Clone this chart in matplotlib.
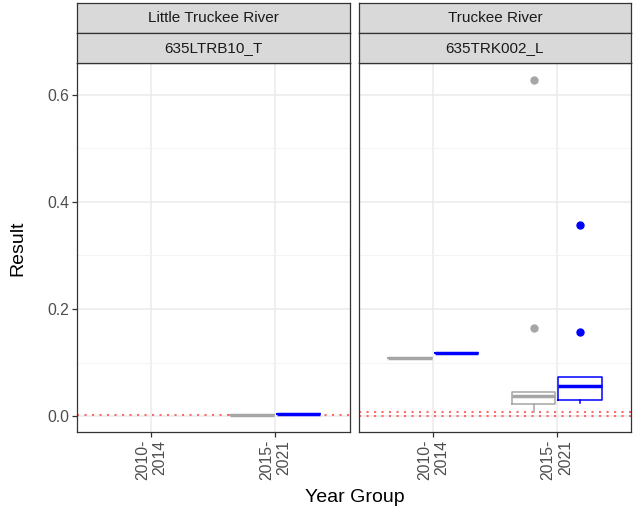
import matplotlib
matplotlib.use('Agg')
import matplotlib.pyplot as plt

plt.rcParams['font.family'] = ['Liberation Sans', 'DejaVu Sans']

# facet labels
rivers = ['Little Truckee River', 'Truckee River']
stations = ['635LTRB10_T', '635TRK002_L']
year_groups = ['2010-\n2014', '2015-\n2021']
series_colours = {'grey': '#A6A6A6', 'blue': '#0000FF'}

# box stats per panel: (year group index, series) -> whislo, q1, med, q3, whishi, fliers
ltr_boxes = [
    (1, 'grey', 0.001, 0.001, 0.001, 0.001, 0.001, []),
    (1, 'blue', 0.004, 0.004, 0.004, 0.004, 0.004, []),
]
trk_boxes = [
    (0, 'grey', 0.108, 0.108, 0.108, 0.108, 0.108, []),
    (0, 'blue', 0.118, 0.118, 0.118, 0.118, 0.118, []),
    (1, 'grey', 0.008, 0.022, 0.037, 0.044, 0.044, [0.164, 0.628]),
    (1, 'blue', 0.024, 0.029, 0.056, 0.072, 0.072, [0.157, 0.357]),
]
# red dotted reference levels
ltr_limits = [0.001]
trk_limits = [0.0, 0.007]

W, H = 634, 513
fig = plt.figure(figsize=(W / 100, H / 100), dpi=100)


def px_box(x0, y0, x1, y1):
    return [x0 / W, 1 - y1 / H, (x1 - x0) / W, (y1 - y0) / H]


panels = [(77, 349.5), (359, 631)]
boxes_all = [ltr_boxes, trk_boxes]
limits_all = [ltr_limits, trk_limits]
offsets = {'grey': -0.1875, 'blue': 0.1875}

for i, (x0, x1) in enumerate(panels):
    ax = fig.add_axes(px_box(x0, 63, x1, 432))
    ax.set_xlim(0.4, 2.6)
    ax.set_ylim(-0.0299, 0.6598)
    ax.set_yticks([0.0, 0.2, 0.4, 0.6])
    ax.set_yticks([0.1, 0.3, 0.5], minor=True)
    ax.set_xticks([1, 2])
    ax.set_xticklabels(year_groups, rotation=90, ha='center', va='top',
                       multialignment='right', fontsize=11.3, color='#4D4D4D')
    ax.grid(True, which='major', color='#EBEBEB', lw=1.1, zorder=0)
    ax.grid(True, which='minor', axis='y', color='#F2F2F2', lw=0.6, zorder=0)
    ax.set_axisbelow(True)
    ax.tick_params(axis='both', which='major', length=3.5, width=0.9,
                   color='#333333', labelsize=11.3, labelcolor='#4D4D4D', pad=2)
    ax.tick_params(axis='y', which='minor', length=0)
    for sp in ax.spines.values():
        sp.set_color('#333333')
        sp.set_linewidth(0.9)
    if i == 0:
        ax.set_yticklabels(['0.0', '0.2', '0.4', '0.6'])
    else:
        ax.tick_params(axis='y', labelleft=False, length=0)

    for lvl in limits_all[i]:
        ax.axhline(lvl, color='#FF6A6A', lw=1.5, ls=(0, (1, 2.6)), zorder=1)

    for g, s, lo, q1, med, q3, hi, fl in boxes_all[i]:
        c = series_colours[s]
        st = [dict(whislo=lo, q1=q1, med=med, q3=q3, whishi=hi, fliers=fl)]
        ax.bxp(st, positions=[g + 1 + offsets[s]], widths=0.35,
               showcaps=False, manage_ticks=False, patch_artist=False,
               boxprops=dict(color=c, lw=1.1),
               whiskerprops=dict(color=c, lw=1.1),
               medianprops=dict(color=c, lw=2.5, solid_capstyle='butt'),
               flierprops=dict(marker='o', markerfacecolor=c,
                               markeredgecolor=c, markersize=5))

    # facet strips
    for j, (ya, yb, label) in enumerate([(3, 33, rivers[i]), (33, 63, stations[i])]):
        sax = fig.add_axes(px_box(x0, ya, x1, yb))
        sax.set_facecolor('#D9D9D9')
        sax.set_xticks([])
        sax.set_yticks([])
        for sp in sax.spines.values():
            sp.set_color('#333333')
            sp.set_linewidth(0.9)
        sax.text(0.5, 0.5, label, ha='center', va='center', fontsize=11,
                 color='#1A1A1A', transform=sax.transAxes)

fig.text(355 / W, 1 - 497 / H, 'Year Group', ha='center', va='center', fontsize=14)
fig.text(18 / W, 1 - 248 / H, 'Result', ha='center', va='center', rotation=90, fontsize=14)

fig.savefig('out.png', dpi=100, facecolor='white')
